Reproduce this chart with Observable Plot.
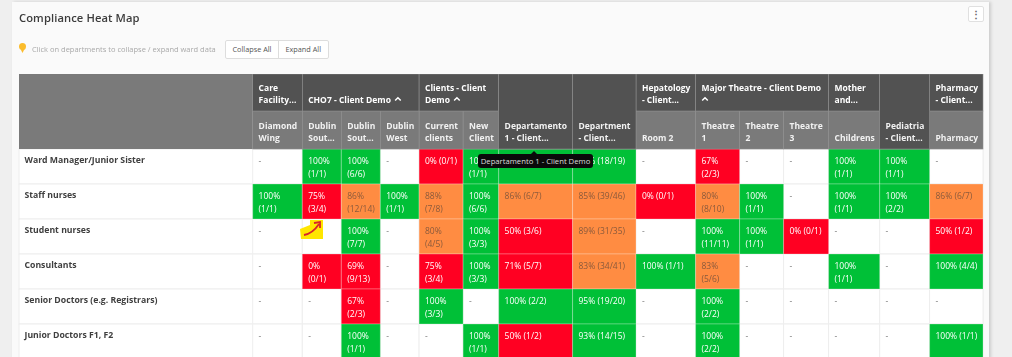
<!DOCTYPE html>
<html><head><meta charset="utf-8">
<script src="https://cdn.jsdelivr.net/npm/d3@7"></script>
<script src="https://cdn.jsdelivr.net/npm/@observablehq/plot@0.6"></script>
<style>
html,body{margin:0;padding:0;width:1012px;height:357px;overflow:hidden;background:#efefef;font-family:"Open Sans",sans-serif}
#page{position:relative;width:1012px;height:357px;overflow:hidden;filter:blur(.3px)}
#card{position:absolute;left:12px;top:2px;width:971px;height:400px;background:#fafafa;padding-right:6px;box-shadow:2px 0 3px #ccc}
#title{position:absolute;left:19px;top:9px;font-size:11.2px;font-weight:600;color:#3c3c3c;letter-spacing:.1px;line-height:18px}
#hint{position:absolute;left:32px;top:42px;font-size:7.5px;color:#a9a9a9;line-height:14px}
#bulb{position:absolute;left:19px;top:43px;width:7px;height:7px;border-radius:50%;background:#fbbc2c}
#bulb2{position:absolute;left:20.5px;top:49px;width:4px;height:4px;background:#fbbc2c;clip-path:polygon(0 0,100% 0,50% 100%)}
#btns{position:absolute;left:225px;top:40px;height:17px;border:1px solid #ddd;border-radius:2px;background:#fff;display:flex;font-size:7.3px;color:#555;line-height:17px}
#btns span{display:block;padding:0 6.5px}#btns span+span{border-left:1px solid #ddd}
#menu{position:absolute;left:968px;top:6px;width:14px;height:14px;border:1px solid #e0e0e0;border-radius:2px;background:#fff;color:#666;font-size:10px;font-weight:700;line-height:14px;text-align:center}
#chart{position:absolute;left:0;top:74px}
#chart svg{display:block;background:transparent}
#tip{position:absolute;left:478px;top:154px;height:14px;width:115px;background:#0a0a0a;border-radius:3px;color:#ddd;font-size:7.7px;line-height:14px;text-align:center;white-space:nowrap}
#tipArrow{position:absolute;left:531px;top:151px;border:3.5px solid transparent;border-top:0;border-bottom:3.5px solid #0a0a0a}
#mark{position:absolute;left:299px;top:218px}
</style></head><body>
<div id="page">
<div id="card"></div>
<div id="title">Compliance Heat Map</div>
<div id="bulb"></div><div id="bulb2"></div>
<div id="hint">Click on departments to collapse / expand ward data</div>
<div id="btns"><span>Collapse All</span><span>Expand All</span></div>
<div id="menu">⋮</div>
<div id="chart"></div>
<div id="tipArrow"></div><div id="tip">Departamento 1 - Client Demo</div>
<svg id="mark" width="28" height="26"><path d="M1 11 L11 7 L11 2 L24 2 L24 21 L2 21Z" fill="#ffe600"/><path d="M5 17 C11 16 16 12 20 6 M15 5 L21 4 L21 10" fill="none" stroke="#d8232a" stroke-width="1.8"/></svg>
</div>
<script>
const rowLabels = ["Ward Manager/Junior Sister","Staff nurses","Student nurses","Consultants","Senior Doctors (e.g. Registrars)","Junior Doctors F1, F2"];
const wardLabels = ["Diamond\nWing","Dublin\nSout...","Dublin\nSout...","Dublin\nWest","Current\nclients","New\nClient","Departamento\n1 - Client...","Department\n- Client...","Room 2","Theatre\n1","Theatre\n2","Theatre\n3","Childrens","Pediatria\n- Client...","Pharmacy"];
// relative column widths of the table
const rowHeaderWidth = 233.7;
const columnWidths = [49.6,39,39,38.8,44,35.6,73.9,63.4,59.6,44,44,45,51.1,49.9,53.4];
const headerHeights = [37,38];
const bodyRowHeight = 35;
// department groups: label, first column, column count
const groupLabels = ["Care\nFacility...","CHO7 - Client Demo","Clients - Client\nDemo","Hepatology\n- Client...","Major Theatre - Client Demo\n ","Mother\nand...","Pharmacy\n- Client..."];
const groupStarts = [0,1,4,8,9,12,14];
const groupSpans = [1,3,2,1,3,1,1];
const expandedGroups = [1,2,4];
const mergedColumns = [6,7,13];
// the value of this cell is covered by the tooltip in the picture
const wardManager = ["-","100% (1/1)","100% (6/6)","-","0% (0/1)","100% (1/1)","100%","95% (18/19)","-","67% (2/3)","-","-","100% (1/1)","100% (1/1)","-"];
const staffNurses = ["100% (1/1)","75% (3/4)","86% (12/14)","100% (1/1)","88% (7/8)","100% (6/6)","86% (6/7)","85% (39/46)","0% (0/1)","80% (8/10)","100% (1/1)","-","100% (1/1)","100% (2/2)","86% (6/7)"];
const studentNurses = ["-","-","100% (7/7)","-","80% (4/5)","100% (3/3)","50% (3/6)","89% (31/35)","-","100% (11/11)","100% (1/1)","0% (0/1)","-","-","50% (1/2)"];
const consultants = ["-","0% (0/1)","69% (9/13)","-","75% (3/4)","100% (3/3)","71% (5/7)","83% (34/41)","100% (1/1)","83% (5/6)","-","-","100% (1/1)","-","100% (4/4)"];
const seniorDoctors = ["-","-","67% (2/3)","-","100% (3/3)","-","100% (2/2)","95% (19/20)","-","100% (2/2)","-","-","-","-","-"];
const juniorDoctors = ["-","-","100% (1/1)","-","-","100% (1/1)","50% (1/2)","93% (14/15)","-","100% (2/2)","-","-","-","-","100% (1/1)"];
const rowValues = [wardManager,staffNurses,studentNurses,consultants,seniorDoctors,juniorDoctors];

const xEdges = Array.from(d3.cumsum([rowHeaderWidth,...columnWidths]));
const left = i => xEdges[i];
const right = i => xEdges[i+1];
const tableWidth = xEdges[xEdges.length-1];
const headTotal = d3.sum(headerHeights);
const plotH = 283;
const FS = 8.5;
const ctx = document.createElement("canvas").getContext("2d");
ctx.font = `${FS}px "Open Sans"`;
const wrap = (s,i) => s !== "-" && ctx.measureText(s).width > columnWidths[i]-9.5 ? s.replace(" ","\n") : s;

const cells = rowValues.flatMap((vals,r) => vals.map((v,c) => ({
  r, c, v, pct: v === "-" ? null : parseInt(v), label: wrap(v,c)
})));
const filled = cells.filter(d => d.pct !== null);
const coveredCell = d => d.r === 0 && d.c === 6;
const wards = wardLabels.map((label,c) => ({label,c,merged: mergedColumns.includes(c)}));
const groups = groupLabels.map((label,i) => ({label,x1:left(groupStarts[i]),x2:right(groupStarts[i]+groupSpans[i]-1)}));
const boldCtx = document.createElement("canvas").getContext("2d");
boldCtx.font = `700 ${FS}px "Open Sans"`;
// chevron follows the last line of the group label
const chevrons = expandedGroups.map(i => {
  const last = groupLabels[i].split("\n").pop().trim();
  return {x: groups[i].x1, off: 5.4 + (last ? boldCtx.measureText(last).width + 7 : 3.5)};
});
const chevronSymbol = {draw(c){c.moveTo(-2.8,1.5);c.lineTo(0,-1.2);c.lineTo(2.8,1.5);}};
const rowY = r => headTotal + r*bodyRowHeight;
const darkHead = "#525252", subHead = "#7a7a7a";

const plot = Plot.plot({
  width:1012, height:plotH,
  marginLeft:19, marginRight:29, marginTop:0, marginBottom:0,
  x:{domain:[0,tableWidth],axis:null},
  y:{domain:[0,plotH],range:[0,plotH],axis:null},
  color:{type:"threshold",domain:[80,90],range:["#ff0022","#ff8c42","#00c037"]},
  style:{fontFamily:'"Open Sans",sans-serif',background:"transparent"},
  marks:[
    // white table body
    Plot.rect(rowLabels,{x1:0,x2:tableWidth,y1:(d,i)=>rowY(i),y2:(d,i)=>rowY(i+1),fill:"#fff",stroke:"#ededed",strokeWidth:1}),
    Plot.rect(cells,{x1:d=>left(d.c),x2:d=>right(d.c),y1:d=>rowY(d.r),y2:d=>rowY(d.r+1),fill:"#fff",stroke:"#eee",strokeWidth:1}),
    Plot.rect(filled,{x1:d=>left(d.c),x2:d=>right(d.c),y1:d=>rowY(d.r),y2:d=>rowY(d.r+1),fill:"pct",stroke:"#fff",strokeOpacity:.25,strokeWidth:1}),
    // header bands
    Plot.rect([0],{x1:0,x2:rowHeaderWidth,y1:0,y2:headTotal,fill:"#7a7a7a"}),
    Plot.rect(wards,{x1:d=>left(d.c),x2:d=>right(d.c),y1:headerHeights[0],y2:headTotal,fill:d=>d.merged?darkHead:subHead,stroke:"#8e8e8e",strokeWidth:.6}),
    Plot.rect(groups,{x1:"x1",x2:"x2",y1:0,y2:headerHeights[0],fill:darkHead,stroke:"#8e8e8e",strokeWidth:.6}),
    Plot.rect(wards.filter(d=>d.merged),{x1:d=>left(d.c),x2:d=>right(d.c),y1:0,y2:headTotal,fill:darkHead,stroke:"#8e8e8e",strokeWidth:.6}),
    // header text
    Plot.text(groups,{x:"x1",y:headerHeights[0],text:"label",dx:5.4,dy:-8.5,textAnchor:"start",lineAnchor:"bottom",lineHeight:1.45,fill:"#fff",fontSize:FS,fontWeight:700}),
    Plot.dot(chevrons,{x:"x",y:headerHeights[0],symbol:chevronSymbol,r:3,fill:"none",stroke:"#fff",strokeWidth:1.5,
      render(index,scales,values,dims,context,next){return next(index,scales,{...values,x:Float64Array.from(values.x,(v,i)=>v+chevrons[i].off),y:Float64Array.from(values.y,v=>v-12.5)},dims,context);}}),
    Plot.text(wards,{x:d=>left(d.c),y:headTotal,text:"label",dx:5.4,dy:-8.5,textAnchor:"start",lineAnchor:"bottom",lineHeight:1.45,fill:"#f2f2f2",fontSize:FS,fontWeight:700}),
    // row labels
    Plot.text(rowLabels,{x:0,y:(d,i)=>rowY(i),text:d=>d,dx:5,dy:5,textAnchor:"start",lineAnchor:"top",lineHeight:1.45,fill:"#3f3f3f",fontSize:8.7,fontWeight:700}),
    // cell text
    Plot.text(cells.filter(d=>!coveredCell(d)),{x:d=>left(d.c),y:d=>rowY(d.r),text:"label",dx:5.4,dy:5.8,textAnchor:"start",lineAnchor:"top",lineHeight:1.47,fontSize:FS,
      fill:d=>d.pct===null?"#777":(d.pct>=80&&d.pct<90?"#8a5a3c":"#fff")})
  ]
});
document.getElementById("chart").appendChild(plot);
</script>
</body></html>
